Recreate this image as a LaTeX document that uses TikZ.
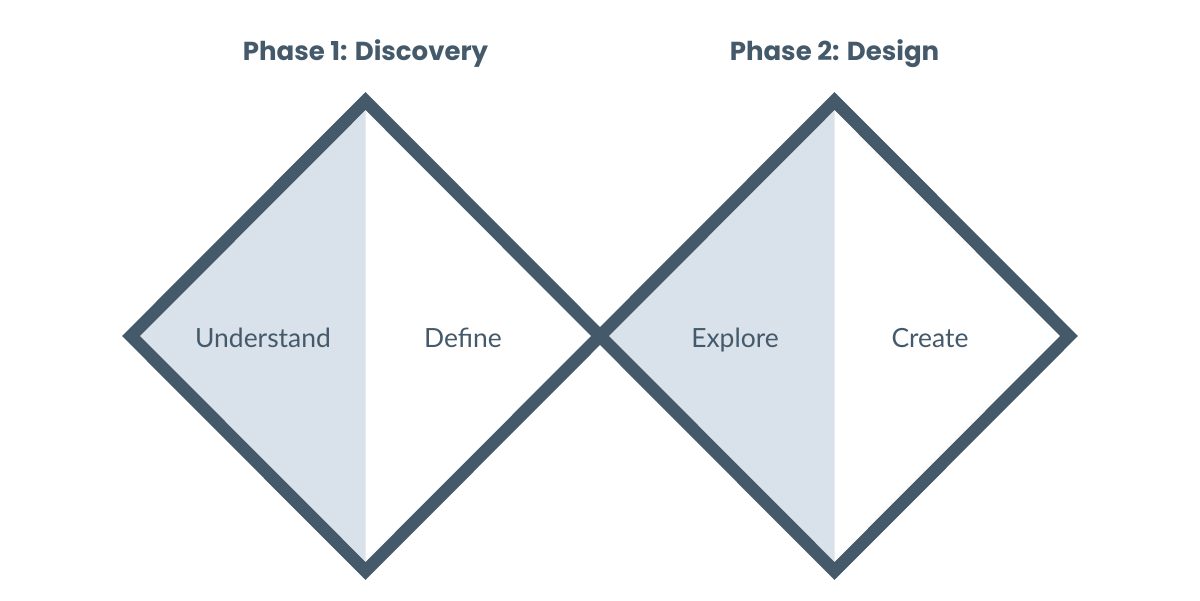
\documentclass[tikz,border=0pt]{standalone}
\usepackage{fontspec}
\setmainfont{Lato}
\newfontfamily\headfont{Poppins}
\definecolor{slate}{HTML}{44596A}
\definecolor{mist}{HTML}{D9E1EB}
\begin{document}
\begin{tikzpicture}[x=0.025cm,y=-0.025cm]
        \tikzstyle{outline}=[draw=slate,line width=9pt,miter limit=10,line join=miter]
        \tikzstyle{half}=[fill=mist]
        \tikzstyle{phase}=[anchor=base,text=slate,font=\headfont\bfseries\fontsize{18.5}{22}\selectfont]
        \tikzstyle{part}=[anchor=base,text=slate,font=\fontsize{18.8}{22}\selectfont]
        \useasboundingbox (0,0) rectangle (1200,600);
        % corners of the two diamonds
        \coordinate (d1top) at (365.5,101);
        \coordinate (d1left) at (131,336);
        \coordinate (d1bot) at (365.5,571);
        \coordinate (mid) at (600,336);
        \coordinate (d2top) at (834.5,101);
        \coordinate (d2right) at (1069,336);
        \coordinate (d2bot) at (834.5,571);
        % shaded halves
        \path[half] (d1top) -- (d1left) -- (d1bot) -- cycle;
        \path[half] (d2top) -- (mid) -- (d2bot) -- cycle;
        % outlines
        \draw[outline] (d1top) -- (d1left) -- (d1bot) -- (mid) -- cycle;
        \draw[outline] (d2top) -- (mid) -- (d2bot) -- (d2right) -- cycle;
        % titles
        \node[phase] (phase1) at (365.5,60) {Phase 1: Discovery};
        \node[phase] (phase2) at (834.5,60) {Phase 2: Design};
        % labels
        \node[part] (understand) at (263,347) {Understand};
        \node[part] (define) at (463,347) {Define};
        \node[part] (explore) at (735,347) {Explore};
        \node[part] (create) at (930,347) {Create};
\end{tikzpicture}
\end{document}
